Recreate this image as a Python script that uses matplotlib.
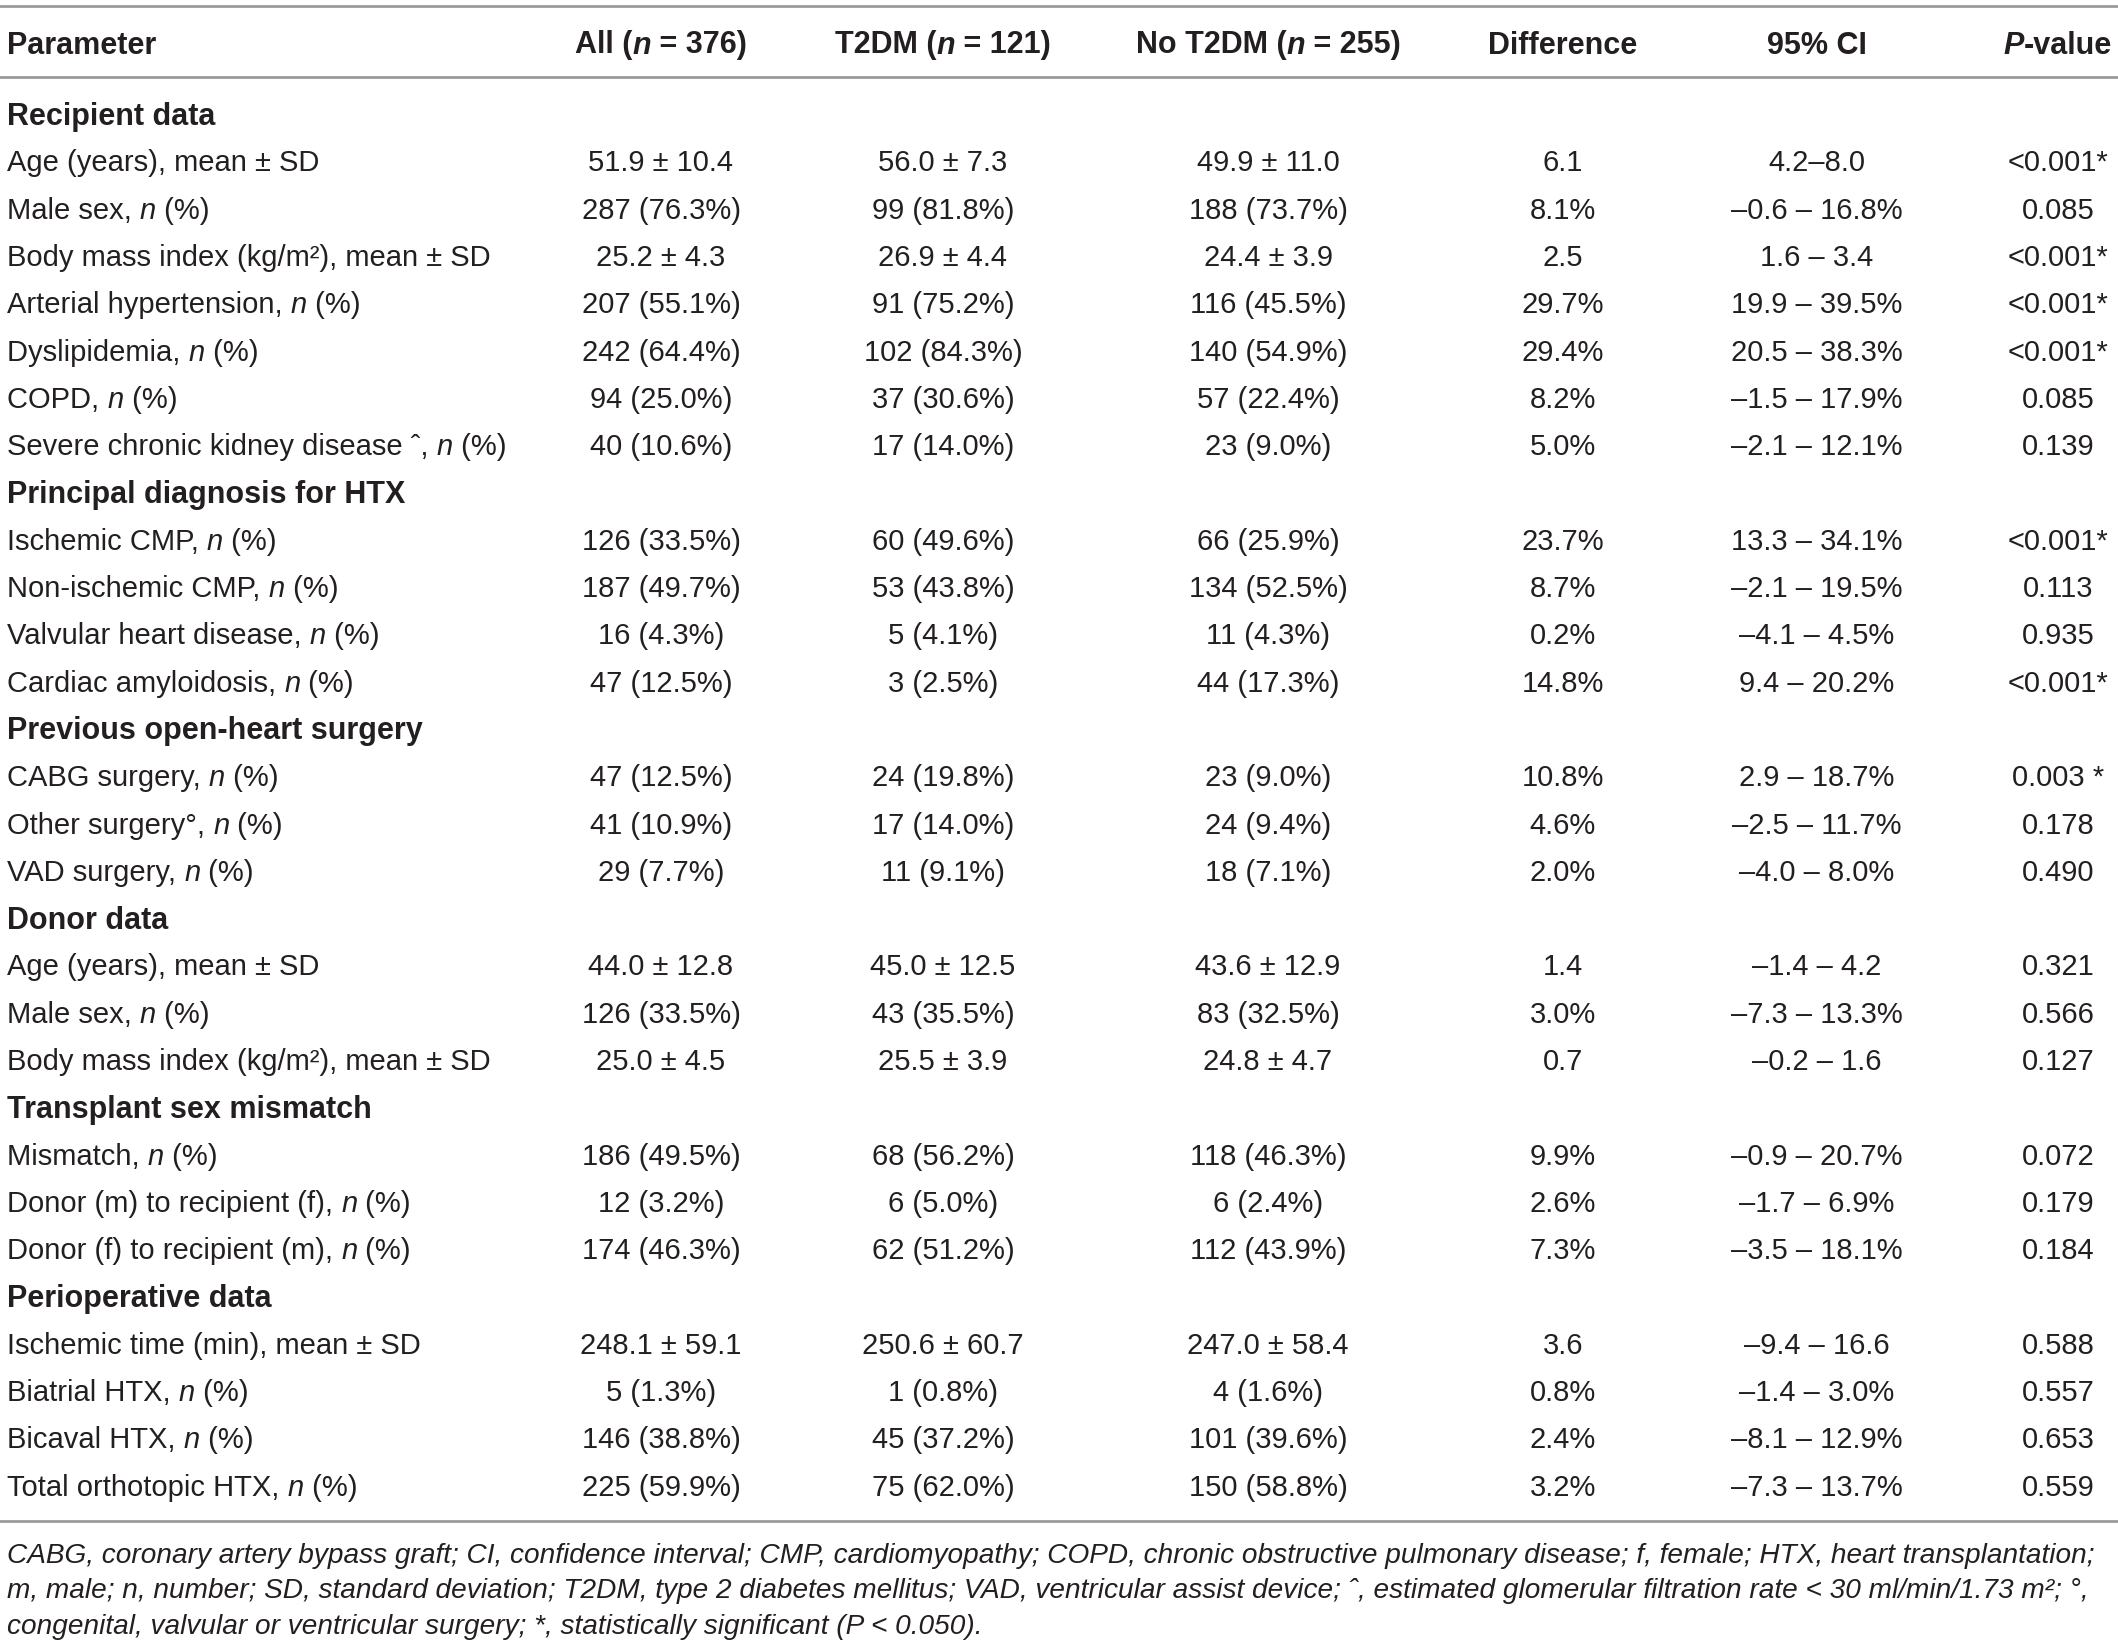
import matplotlib
matplotlib.use("Agg")
import matplotlib.pyplot as plt

# table content
header_labels = ["Parameter", "All ({n} = 376)", "T2DM ({n} = 121)", "No T2DM ({n} = 255)",
                 "Difference", "95% CI", "{P}-value"]

section_titles = ["Recipient data", "Principal diagnosis for HTX", "Previous open-heart surgery",
                  "Donor data", "Transplant sex mismatch", "Perioperative data"]
section_sizes = [7, 4, 3, 3, 3, 4]

row_labels = [
    "Age (years), mean ± SD",
    "Male sex, {n} (%)",
    "Body mass index (kg/m²), mean ± SD",
    "Arterial hypertension, {n} (%)",
    "Dyslipidemia, {n} (%)",
    "COPD, {n} (%)",
    "Severe chronic kidney disease ˆ, {n} (%)",
    "Ischemic CMP, {n} (%)",
    "Non-ischemic CMP, {n} (%)",
    "Valvular heart disease, {n} (%)",
    "Cardiac amyloidosis, {n} (%)",
    "CABG surgery, {n} (%)",
    "Other surgery°, {n} (%)",
    "VAD surgery, {n} (%)",
    "Age (years), mean ± SD",
    "Male sex, {n} (%)",
    "Body mass index (kg/m²), mean ± SD",
    "Mismatch, {n} (%)",
    "Donor (m) to recipient (f), {n} (%)",
    "Donor (f) to recipient (m), {n} (%)",
    "Ischemic time (min), mean ± SD",
    "Biatrial HTX, {n} (%)",
    "Bicaval HTX, {n} (%)",
    "Total orthotopic HTX, {n} (%)",
]

all_vals = ["51.9 ± 10.4", "287 (76.3%)", "25.2 ± 4.3", "207 (55.1%)", "242 (64.4%)",
            "94 (25.0%)", "40 (10.6%)", "126 (33.5%)", "187 (49.7%)", "16 (4.3%)",
            "47 (12.5%)", "47 (12.5%)", "41 (10.9%)", "29 (7.7%)", "44.0 ± 12.8",
            "126 (33.5%)", "25.0 ± 4.5", "186 (49.5%)", "12 (3.2%)", "174 (46.3%)",
            "248.1 ± 59.1", "5 (1.3%)", "146 (38.8%)", "225 (59.9%)"]
t2dm_vals = ["56.0 ± 7.3", "99 (81.8%)", "26.9 ± 4.4", "91 (75.2%)", "102 (84.3%)",
             "37 (30.6%)", "17 (14.0%)", "60 (49.6%)", "53 (43.8%)", "5 (4.1%)",
             "3 (2.5%)", "24 (19.8%)", "17 (14.0%)", "11 (9.1%)", "45.0 ± 12.5",
             "43 (35.5%)", "25.5 ± 3.9", "68 (56.2%)", "6 (5.0%)", "62 (51.2%)",
             "250.6 ± 60.7", "1 (0.8%)", "45 (37.2%)", "75 (62.0%)"]
no_t2dm_vals = ["49.9 ± 11.0", "188 (73.7%)", "24.4 ± 3.9", "116 (45.5%)", "140 (54.9%)",
                "57 (22.4%)", "23 (9.0%)", "66 (25.9%)", "134 (52.5%)", "11 (4.3%)",
                "44 (17.3%)", "23 (9.0%)", "24 (9.4%)", "18 (7.1%)", "43.6 ± 12.9",
                "83 (32.5%)", "24.8 ± 4.7", "118 (46.3%)", "6 (2.4%)", "112 (43.9%)",
                "247.0 ± 58.4", "4 (1.6%)", "101 (39.6%)", "150 (58.8%)"]
diff_vals = ["6.1", "8.1%", "2.5", "29.7%", "29.4%", "8.2%", "5.0%", "23.7%", "8.7%",
             "0.2%", "14.8%", "10.8%", "4.6%", "2.0%", "1.4", "3.0%", "0.7", "9.9%",
             "2.6%", "7.3%", "3.6", "0.8%", "2.4%", "3.2%"]
ci_vals = ["4.2–8.0", "–0.6 – 16.8%", "1.6 – 3.4", "19.9 – 39.5%", "20.5 – 38.3%",
           "–1.5 – 17.9%", "–2.1 – 12.1%", "13.3 – 34.1%", "–2.1 – 19.5%", "–4.1 – 4.5%",
           "9.4 – 20.2%", "2.9 – 18.7%", "–2.5 – 11.7%", "–4.0 – 8.0%", "–1.4 – 4.2",
           "–7.3 – 13.3%", "–0.2 – 1.6", "–0.9 – 20.7%", "–1.7 – 6.9%", "–3.5 – 18.1%",
           "–9.4 – 16.6", "–1.4 – 3.0%", "–8.1 – 12.9%", "–7.3 – 13.7%"]
p_vals = ["<0.001*", "0.085", "<0.001*", "<0.001*", "<0.001*", "0.085", "0.139",
          "<0.001*", "0.113", "0.935", "<0.001*", "0.003 *", "0.178", "0.490", "0.321",
          "0.566", "0.127", "0.072", "0.179", "0.184", "0.588", "0.557", "0.653", "0.559"]

footnote_lines = [
    "CABG, coronary artery bypass graft; CI, confidence interval; CMP, cardiomyopathy; COPD, chronic obstructive pulmonary disease; f, female; HTX, heart transplantation;",
    "m, male; n, number; SD, standard deviation; T2DM, type 2 diabetes mellitus; VAD, ventricular assist device; ˆ, estimated glomerular filtration rate < 30 ml/min/1.73 m²; °,",
    "congenital, valvular or ventricular surgery; *, statistically significant (P < 0.050).",
]

FONT = ["Liberation Sans Narrow", "Liberation Sans", "DejaVu Sans"]
TXT = "#231f20"
LINE = "#9a9a9a"
W, H = 2118, 1644

fig = plt.figure(figsize=(W / 100, H / 100), dpi=100)
ax = fig.add_axes([0, 0, 1, 1])
ax.set_xlim(0, W)
ax.set_ylim(H, 0)
ax.axis("off")
fig.canvas.draw()
renderer = fig.canvas.get_renderer()


def text_width(s, **kw):
    # measure with a guard char so trailing spaces count
    t1 = ax.text(0, 0, s + "|", **kw)
    t2 = ax.text(0, 0, "|", **kw)
    w = t1.get_window_extent(renderer).width - t2.get_window_extent(renderer).width
    t1.remove()
    t2.remove()
    return w


def split_rich(s):
    # "{n}" marks an italic run
    parts = []
    while "{" in s:
        a = s.index("{")
        b = s.index("}")
        if a > 0:
            parts.append((s[:a], False))
        parts.append((s[a + 1:b], True))
        s = s[b + 1:]
    if s:
        parts.append((s, False))
    return parts


def rich_text(x, y, s, ha="left", size=22, weight="normal"):
    parts = split_rich(s)
    widths = []
    for p, it in parts:
        widths.append(text_width(p, family=FONT, size=size, weight=weight,
                                 style="italic" if it else "normal"))
    total = sum(widths)
    if ha == "center":
        x0 = x - total / 2
    elif ha == "right":
        x0 = x - total
    else:
        x0 = x
    for (p, it), w in zip(parts, widths):
        ax.text(x0, y, p, family=FONT, size=size, weight=weight,
                style="italic" if it else "normal", color=TXT,
                ha="left", va="center_baseline")
        x0 += w


col_x = [7, 661, 943, 1268, 1563, 1817, 2058]
row_h = 47.3
y_head = 42
y_first = 113
fs = 21
fs_head = 22

# rules
ax.plot([0, W], [6, 6], color=LINE, lw=2)
ax.plot([0, W], [77, 77], color=LINE, lw=2)

for i, h in enumerate(header_labels):
    rich_text(col_x[i], y_head, h, ha="left" if i == 0 else "center", size=fs_head, weight="bold")

y = y_first
k = 0
for title, n in zip(section_titles, section_sizes):
    ax.text(col_x[0], y, title, family=FONT, size=fs_head, weight="bold", color=TXT,
            ha="left", va="center_baseline")
    y += row_h
    for _ in range(n):
        rich_text(col_x[0], y, row_labels[k], size=fs)
        for j, col in enumerate([all_vals, t2dm_vals, no_t2dm_vals, diff_vals, ci_vals, p_vals]):
            ax.text(col_x[j + 1], y, col[k], family=FONT, size=fs, color=TXT,
                    ha="center", va="center_baseline")
        y += row_h
        k += 1

y_bottom = y - row_h + 36
ax.plot([0, W], [y_bottom, y_bottom], color=LINE, lw=2)

for i, line in enumerate(footnote_lines):
    ax.text(col_x[0], y_bottom + 32 + i * 35.5, line, family=FONT, size=20.2,
            style="italic", color=TXT, ha="left", va="center_baseline")

fig.savefig("out.png", dpi=100, facecolor="white")
